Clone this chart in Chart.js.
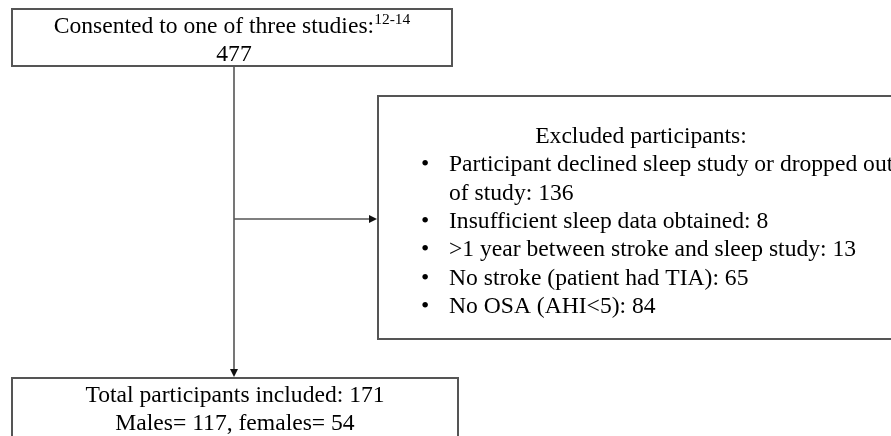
<!DOCTYPE html>
<html>
<head>
<meta charset="utf-8">
<script src="https://cdn.jsdelivr.net/npm/chart.js@4.4.1/dist/chart.umd.min.js"></script>
<style>
html,body{margin:0;padding:0;background:#fff;overflow:hidden;}
canvas{display:block;}
</style>
</head>
<body>
<canvas id="c" width="891" height="436"></canvas>
<script>
const consentedCount = 477;
const consentedRefs = "12-14";
const exclusionReasons = [
  "Participant declined sleep study or dropped out\nof study",
  "Insufficient sleep data obtained",
  ">1 year between stroke and sleep study",
  "No stroke (patient had TIA)",
  "No OSA (AHI<5)"
];
const exclusionCounts = [136, 8, 13, 65, 84];
const includedTotal = 171;
const includedSex = ["Males", "females"];
const includedSexCounts = [117, 54];

// ---- layout (in scale units; scale spans the canvas) ----
const LAYOUT = {
  top:   {x0: 12,  y0: 9,   x1: 452, y1: 66},
  right: {x0: 378, y0: 96,  x1: 910, y1: 339},
  bot:   {x0: 12,  y0: 378, x1: 458, y1: 450},
  trunkX: 234,
  branchY: 219
};
const FONT = '"Liberation Serif", "Times New Roman", serif';
const FS = 23.6;
const LINE = '#555555';

const flowPlugin = {
  id: 'flow',
  afterDraw(chart) {
    const ctx = chart.ctx;
    const xs = chart.scales.x, ys = chart.scales.y;
    const X = v => xs.getPixelForValue(v);
    const Y = v => ys.getPixelForValue(v);

    ctx.save();
    ctx.strokeStyle = LINE;
    ctx.lineWidth = 2;
    function box(b) {
      ctx.strokeRect(X(b.x0), Y(b.y0), X(b.x1) - X(b.x0), Y(b.y1) - Y(b.y0));
    }
    box(LAYOUT.top); box(LAYOUT.right); box(LAYOUT.bot);

    // connectors
    ctx.lineWidth = 1.6;
    ctx.beginPath();
    ctx.moveTo(X(LAYOUT.trunkX), Y(LAYOUT.top.y1));
    ctx.lineTo(X(LAYOUT.trunkX), Y(LAYOUT.bot.y0) - 6);
    ctx.moveTo(X(LAYOUT.trunkX), Y(LAYOUT.branchY));
    ctx.lineTo(X(LAYOUT.right.x0) - 6, Y(LAYOUT.branchY));
    ctx.stroke();
    ctx.fillStyle = '#111';
    // down arrow
    let tx = X(LAYOUT.trunkX), ty = Y(LAYOUT.bot.y0) - 1;
    ctx.beginPath(); ctx.moveTo(tx, ty); ctx.lineTo(tx - 4, ty - 8); ctx.lineTo(tx + 4, ty - 8); ctx.closePath(); ctx.fill();
    // right arrow
    tx = X(LAYOUT.right.x0) - 1; ty = Y(LAYOUT.branchY);
    ctx.beginPath(); ctx.moveTo(tx, ty); ctx.lineTo(tx - 8, ty - 4); ctx.lineTo(tx - 8, ty + 4); ctx.closePath(); ctx.fill();

    // text
    ctx.fillStyle = '#000';
    ctx.textBaseline = 'alphabetic';
    const F = FS + 'px ' + FONT;
    const FSUP = '15.5px ' + FONT;

    // top box
    const t1 = "Consented to one of three studies:";
    ctx.font = F;
    const w1 = ctx.measureText(t1).width;
    ctx.font = FSUP;
    const wsup = ctx.measureText(consentedRefs).width;
    const cx = X((LAYOUT.top.x0 + LAYOUT.top.x1) / 2);
    const start = cx - (w1 + wsup) / 2;
    ctx.textAlign = 'left';
    ctx.font = F;
    ctx.fillText(t1, start, Y(32.5));
    ctx.font = FSUP;
    ctx.fillText(consentedRefs, start + w1, Y(24));
    ctx.font = F;
    ctx.textAlign = 'center';
    ctx.fillText(String(consentedCount), X(LAYOUT.trunkX), Y(61));

    // right box
    ctx.fillText("Excluded participants:", X(641), Y(143));
    ctx.textAlign = 'left';
    let line = 1;
    const lh = 28.3;
    exclusionReasons.forEach((r, i) => {
      const parts = (r + ": " + exclusionCounts[i]).split("\n");
      ctx.fillText("\u2022", X(421), Y(143 + line * lh));
      parts.forEach(p => {
        ctx.fillText(p, X(449), Y(143 + line * lh));
        line++;
      });
    });

    // bottom box
    ctx.textAlign = 'center';
    const bcx = X((LAYOUT.bot.x0 + LAYOUT.bot.x1) / 2);
    ctx.fillText("Total participants included: " + includedTotal, bcx, Y(401.5));
    ctx.fillText(includedSex[0] + "= " + includedSexCounts[0] + ", " + includedSex[1] + "= " + includedSexCounts[1], bcx, Y(430));
    ctx.restore();
  }
};

new Chart(document.getElementById('c'), {
  type: 'scatter',
  data: { datasets: [{ data: [], pointRadius: 0 }] },
  options: {
    responsive: false,
    animation: false,
    devicePixelRatio: 1,
    layout: { padding: 0 },
    plugins: { legend: { display: false }, tooltip: { enabled: false } },
    scales: {
      x: { type: 'linear', min: 0, max: 891, display: false },
      y: { type: 'linear', min: 0, max: 436, reverse: true, display: false }
    }
  },
  plugins: [flowPlugin]
});
</script>
</body>
</html>
